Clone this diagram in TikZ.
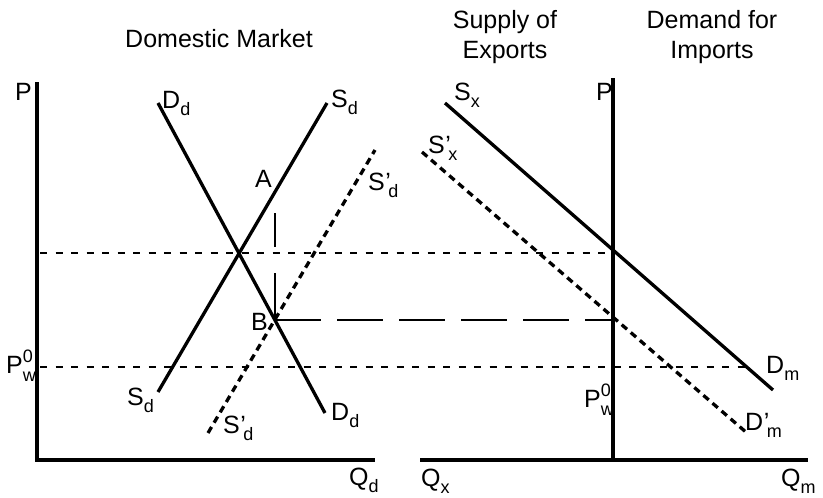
\documentclass[tikz,border=0pt]{standalone}
\usepackage{fontspec}
\setmainfont{Liberation Sans}
\newcommand{\lsub}[1]{\raisebox{-7pt}{\fontsize{18}{18}\selectfont #1}}
\newcommand{\lsup}[1]{\raisebox{11pt}{\fontsize{18}{18}\selectfont #1}}
\newcommand{\pwz}{P\rlap{\lsup{0}}\raisebox{-1pt}{\lsub{w}}}
\newcommand{\prm}[2]{#1\kern0.5pt’\kern-2.5pt\lsub{#2}}
\begin{document}
\begin{tikzpicture}[x=1pt,y=-1pt,
  lbl/.style={inner sep=0pt,anchor=base west,font=\fontsize{25}{28}\selectfont},
  ttl/.style={inner sep=0pt,anchor=base,font=\fontsize{25}{28}\selectfont},
  axis/.style={line width=4pt},
  curve/.style={line width=3.3pt},
  dcurve/.style={line width=3.3pt,dash pattern=on 7pt off 5pt},
  thindash/.style={line width=1.2pt,dash pattern=on 7pt off 8.5pt},
  longdash/.style={line width=1.2pt,dash pattern=on 46pt off 16pt}]
\useasboundingbox (0,0) rectangle (823,498);
% titles
\node[ttl] (t1) at (219,47) {Domestic Market};
\node[ttl] (t2) at (505,28) {Supply of};
\node[ttl] (t3) at (505,58) {Exports};
\node[ttl] (t4) at (712,28) {Demand for};
\node[ttl] (t5) at (712,58) {Imports};
% coordinates
\coordinate (lytop) at (37,82);
\coordinate (lo) at (37,460);
\coordinate (lxend) at (375,460);
\coordinate (rytop) at (613,78);
\coordinate (ro) at (613,460);
\coordinate (rxbeg) at (420,460);
\coordinate (rxend) at (808,460);
\coordinate (dd1) at (158,103);
\coordinate (dd2) at (325,413);
\coordinate (sd1) at (158,392);
\coordinate (sd2) at (327,103);
\coordinate (spd1) at (208,433);
\coordinate (spd2) at (375,150);
\coordinate (sx1) at (445,103);
\coordinate (sx2) at (773,390);
\coordinate (spx1) at (422,152);
\coordinate (spx2) at (747,433);
\coordinate (E) at (239,253);
\coordinate (Eleft) at (40,253);
\coordinate (Eright) at (613,253);
\coordinate (Bp) at (275,320);
\coordinate (Bright) at (613,320);
\coordinate (Ap) at (275,192);
\coordinate (Wleft) at (40,367);
\coordinate (Wright) at (747,367);
% dashed guides
\draw[thindash] (Eleft) -- (Eright);
\draw[thindash] (Wleft) -- (Wright);
\draw[longdash] (Bp) -- (Bright);
\draw[line width=1.2pt,dash pattern=on 0pt off 21pt on 34pt off 26pt on 60pt] (Ap) -- (Bp);
% axes
\draw[axis] (lytop) -- (lo) -- (lxend);
\draw[axis] (rytop) -- (ro);
\draw[axis] (rxbeg) -- (rxend);
% curves
\draw[curve] (dd1) -- (dd2);
\draw[curve] (sd1) -- (sd2);
\draw[dcurve] (spd1) -- (spd2);
\draw[curve] (sx1) -- (sx2);
\draw[dcurve] (spx1) -- (spx2);
% labels left
\node[lbl] (pl) at (15,100) {P};
\node[lbl] (pwl) at (6,373) {\pwz};
\node[lbl] (qd) at (349,485) {Q\lsub{d}};
\node[lbl] (ddt) at (162,108) {D\lsub{d}};
\node[lbl] (sdt) at (331,107) {S\lsub{d}};
\node[lbl] (la) at (255,187) {A};
\node[lbl] (spdt) at (368,190) {\prm{S}{d}};
\node[lbl] (lb) at (251,330) {B};
\node[lbl] (sdb) at (127,405) {S\lsub{d}};
\node[lbl] (spdb) at (223,433) {\prm{S}{d}};
\node[lbl] (ddb) at (331,420) {D\lsub{d}};
% labels right
\node[lbl] (pr) at (596,100) {P};
\node[lbl] (pwr) at (584,407) {\pwz};
\node[lbl] (qx) at (421,486) {Q\lsub{x}};
\node[lbl] (qm) at (781,486) {Q\lsub{m}};
\node[lbl] (sxl) at (454,100) {S\lsub{x}};
\node[lbl] (spxl) at (428,153) {\prm{S}{x}};
\node[lbl] (dml) at (766,373) {D\lsub{m}};
\node[lbl] (dpml) at (745,430) {\prm{D}{m}};
\end{tikzpicture}
\end{document}
